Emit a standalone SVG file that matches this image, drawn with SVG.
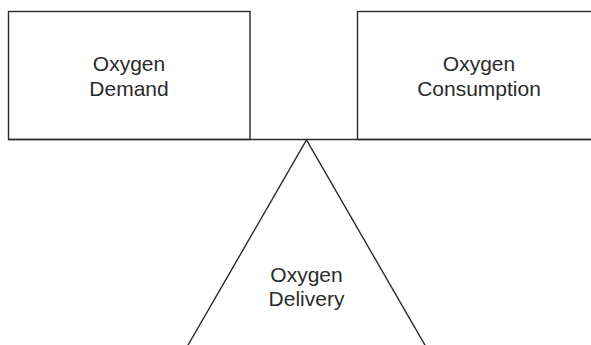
<svg xmlns="http://www.w3.org/2000/svg" width="591" height="345" viewBox="0 0 591 345">
  <style>
    .shape { fill: none; stroke: #2b2b2b; stroke-width: 1.4; }
    .label { font-family: "Liberation Sans", Arial, sans-serif; font-size: 21px; fill: #2b2b2b; text-anchor: middle; }
  </style>
  <rect width="591" height="345" fill="#ffffff"/>
  <g id="connectors">
    <!-- balance beam under both boxes -->
    <line class="shape" x1="8.5" y1="139.5" x2="591" y2="139.5"/>
  </g>
  <g id="oxygen-demand">
    <rect class="shape" x="8.5" y="11.5" width="241.5" height="128"/>
    <text class="label" x="129" y="71">Oxygen</text>
    <text class="label" x="129" y="96">Demand</text>
  </g>
  <g id="oxygen-consumption">
    <rect class="shape" x="357.5" y="11.5" width="245" height="128"/>
    <text class="label" x="479" y="71">Oxygen</text>
    <text class="label" x="479" y="96">Consumption</text>
  </g>
  <g id="oxygen-delivery">
    <polyline class="shape" points="187.5,346 306.5,140 425.5,346"/>
    <text class="label" x="306.5" y="282">Oxygen</text>
    <text class="label" x="306.5" y="306">Delivery</text>
  </g>
</svg>
